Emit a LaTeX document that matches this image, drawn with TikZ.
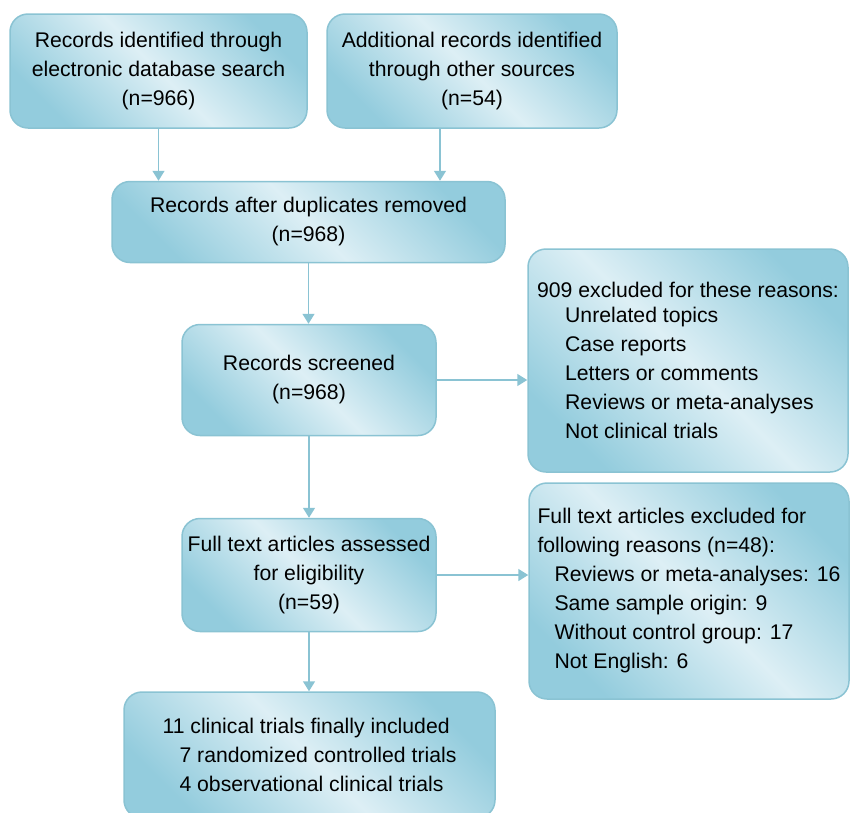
\documentclass[tikz,border=0pt]{standalone}
\usepackage{fontspec}
\setmainfont{Liberation Sans}
\usetikzlibrary{arrows.meta, positioning}
\definecolor{boxdark}{HTML}{93CCDD}
\definecolor{boxlight}{HTML}{DDEFF5}
\definecolor{boxline}{HTML}{8AC3D3}
\tikzset{prisma/.style={draw=boxline, line width=1.5pt, rounded corners=18pt, align=center,
  top color=boxdark, bottom color=boxdark, middle color=boxlight, shading angle=-45,
  font=\fontsize{21.2}{29}\selectfont, inner sep=0pt}}
\tikzset{reasons/.style={prisma, align=left}}
\tikzset{flow/.style={draw=boxline, line width=1.5pt, -{Triangle[width=12pt,length=10pt]}}}
\newcommand{\ind}[1]{\hspace*{#1pt}}

\begin{document}
\begin{tikzpicture}[x=1pt,y=-1pt]
\useasboundingbox (0,0) rectangle (850,812);
\node[prisma, minimum width=297pt, minimum height=114pt] (search) at (158.5,71)
  {Records identified through\\electronic database search\\(n=966)};
\node[prisma, minimum width=290pt, minimum height=114pt] (other) at (472,71)
  {Additional records identified\\through other sources\\(n=54)};
\node[prisma, minimum width=393pt, minimum height=81pt] (dupl) at (308.5,222)
  {Records after duplicates removed\\(n=968)};
\node[prisma, minimum width=254pt, minimum height=111pt] (screen) at (309,380)
  {Records screened\\(n=968)};
\node[reasons, minimum width=320pt, minimum height=223pt] (excl) at (688,360.5)
  {909 excluded for these reasons:\\[-4pt]
   \ind{28}Unrelated topics\\
   \ind{28}Case reports\\
   \ind{28}Letters or comments\\
   \ind{28}Reviews or meta-analyses\\
   \ind{28}Not clinical trials};
\node[prisma, minimum width=254pt, minimum height=113pt] (full) at (309,575)
  {Full text articles assessed\\for eligibility\\(n=59)};
\node[reasons, minimum width=320pt, minimum height=216pt] (fullexcl) at (689,591)
  {Full text articles excluded for\\
   following reasons (n=48):\\
   \ind{17}Reviews or meta-analyses: 16\\
   \ind{17}Same sample origin: 9\\
   \ind{17}Without control group: 17\\
   \ind{17}Not English: 6};
\node[reasons, minimum width=371pt, minimum height=126pt] (incl) at (309.5,755)
  {11 clinical trials finally included\\
   \ind{17}7 randomized controlled trials\\
   \ind{17}4 observational clinical trials};

\draw[flow] (search.south) -- (search.south |- dupl.north);
\draw[flow] ([xshift=-32pt]other.south) -- ([xshift=-32pt]other.south |- dupl.north);
\draw[flow] (dupl.south) -- (dupl.south |- screen.north);
\draw[flow] (screen.east) -- (screen.east -| excl.west);
\draw[flow] (screen.south) -- (full.north);
\draw[flow] (full.east) -- (full.east -| fullexcl.west);
\draw[flow] (full.south) -- (full.south |- incl.north);
\end{tikzpicture}
\end{document}
